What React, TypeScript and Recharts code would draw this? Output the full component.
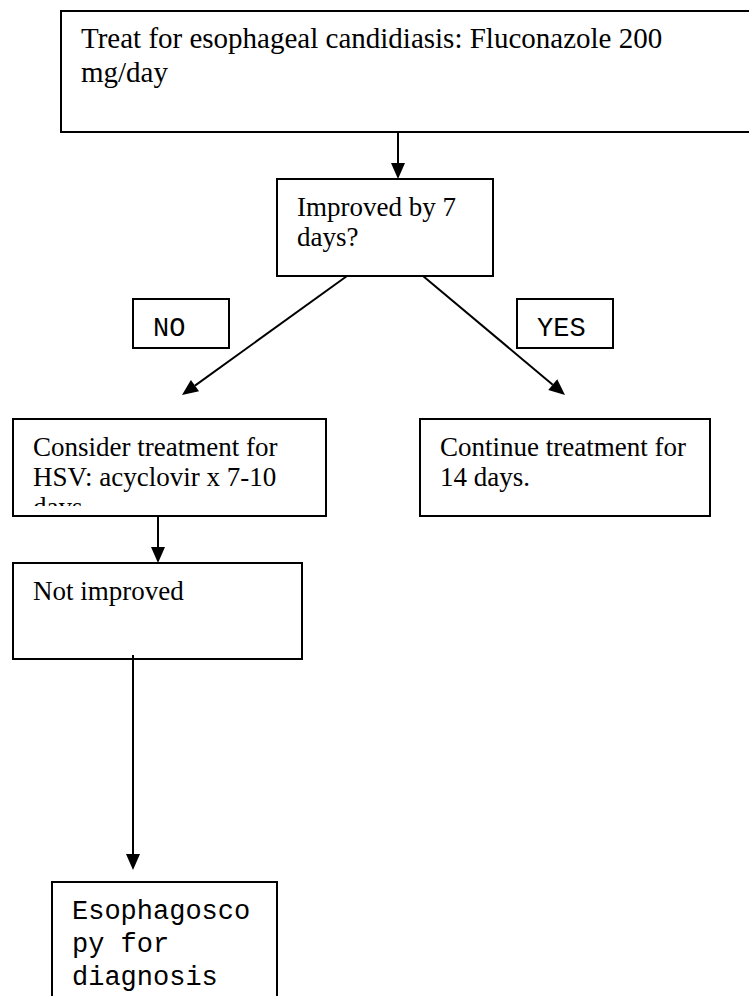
import React from 'react';
import { ComposedChart, XAxis, YAxis, ReferenceArea, ReferenceLine } from 'recharts';

// ---------------------------------------------------------------------------
// flowchart data (diagram units = page pixels, y grows downwards)
// ---------------------------------------------------------------------------

const boxTexts: string[][] = [
    ['Treat for esophageal candidiasis: Fluconazole 200', 'mg/day'],
    ['Improved by 7', 'days?'],
    ['NO'],
    ['YES'],
    ['Consider treatment for', 'HSV: acyclovir x 7-10', 'days'],
    ['Continue treatment for', '14 days.'],
    ['Not improved'],
    ['Esophagosco', 'py for', 'diagnosis'],
];
const boxLeft = [61, 277, 133, 517, 13, 420, 13, 52];
const boxRight = [775, 493, 229, 613, 326, 710, 302, 277];
const boxTop = [11, 179, 299, 299, 419, 419, 563, 882];
const boxBottom = [132, 276, 348, 348, 516, 516, 659, 1015];

const arrowFrom = [
    { x: 398, y: 132 },
    { x: 347, y: 276 },
    { x: 423, y: 276 },
    { x: 158, y: 516 },
    { x: 133, y: 655 },
];
const arrowTo = [
    { x: 398, y: 179 },
    { x: 182, y: 395 },
    { x: 565, y: 395 },
    { x: 158, y: 563 },
    { x: 133, y: 870 },
];

// ---------------------------------------------------------------------------
// styles
// ---------------------------------------------------------------------------

const W = 749;
const H = 996;
const SERIF = '"Liberation Serif", "Times New Roman", serif';
const MONO = '"Liberation Mono", "Courier New", monospace';
const monoBoxes = [2, 3, 7];
const fontSizes = [29, 27, 27, 27, 27, 27, 27, 27];
const lineHeights = [34, 30, 30, 30, 30, 30, 30, 33];

const BoxText = (props: any, i: number) => {
    const vb = props.viewBox || props;
    const { x, y, width, height } = vb;
    const mono = monoBoxes.includes(i);
    const clipId = `box-clip-${i}`;
    return (
        <g>
            <defs>
                <clipPath id={clipId}>
                    <rect x={x} y={y} width={width} height={Math.max(0, height - 10)} />
                </clipPath>
            </defs>
            <g clipPath={`url(#${clipId})`}>
                {boxTexts[i].map((line, k) => (
                    <text
                        key={k}
                        x={x + 20}
                        y={y + 37 + k * lineHeights[i]}
                        fontFamily={mono ? MONO : SERIF}
                        fontSize={fontSizes[i]}
                        fill="#000"
                    >
                        {line}
                    </text>
                ))}
            </g>
        </g>
    );
};

const Arrow = (props: any) => {
    const { x1, y1, x2, y2 } = props;
    const dx = x2 - x1;
    const dy = y2 - y1;
    const len = Math.sqrt(dx * dx + dy * dy) || 1;
    const ux = dx / len;
    const uy = dy / len;
    const head = 16;
    const half = 7;
    const bx = x2 - ux * head;
    const by = y2 - uy * head;
    const pts = [
        `${x2},${y2}`,
        `${bx - uy * half},${by + ux * half}`,
        `${bx + uy * half},${by - ux * half}`,
    ].join(' ');
    return (
        <g>
            <line x1={x1} y1={y1} x2={bx} y2={by} stroke="#000" strokeWidth={2} />
            <polygon points={pts} fill="#000" />
        </g>
    );
};

export default function App() {
    return (
        <div style={{ position: 'fixed', left: 0, top: 0, width: W, height: H, background: '#fff' }}>
            <ComposedChart width={W} height={H} data={[]} margin={{ top: 0, right: 0, bottom: 0, left: 0 }}>
                <XAxis type="number" dataKey="x" domain={[0, W]} hide allowDataOverflow />
                <YAxis type="number" dataKey="y" domain={[0, H]} reversed hide allowDataOverflow width={0} />

                {boxTexts.map((_, i) => (
                    <ReferenceArea
                        key={`box-${i}`}
                        x1={boxLeft[i]}
                        x2={boxRight[i]}
                        y1={boxTop[i]}
                        y2={boxBottom[i]}
                        ifOverflow="hidden"
                        fill="#fff"
                        fillOpacity={1}
                        stroke="#000"
                        strokeWidth={2}
                        label={(p: any) => BoxText(p, i)}
                    />
                ))}

                {arrowFrom.map((from, i) => (
                    <ReferenceLine
                        key={`arrow-${i}`}
                        segment={[from, arrowTo[i]]}
                        ifOverflow="visible"
                        stroke="#000"
                        shape={Arrow}
                    />
                ))}
            </ComposedChart>
        </div>
    );
}
